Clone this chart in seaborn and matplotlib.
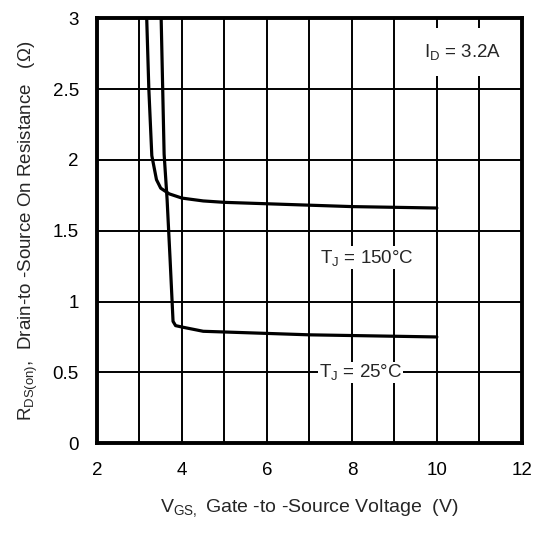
import matplotlib
matplotlib.use("Agg")
import matplotlib.pyplot as plt
import seaborn as sns
import pandas as pd

# Data
v_150 = [3.17, 3.22, 3.29, 3.40, 3.50, 3.70, 4.00, 4.50, 5.0, 6.0, 7.0, 8.0, 9.0, 10.0]
r_150 = [3.00, 2.50, 2.03, 1.86, 1.80, 1.76, 1.73, 1.71, 1.70, 1.69, 1.68, 1.67, 1.665, 1.66]
v_25 = [3.51, 3.58, 3.65, 3.72, 3.79, 3.85, 4.00, 4.50, 5.0, 6.0, 7.0, 8.0, 9.0, 10.0]
r_25 = [3.00, 2.04, 1.72, 1.30, 0.86, 0.83, 0.82, 0.79, 0.785, 0.775, 0.765, 0.76, 0.755, 0.75]
x_ticks = [2, 4, 6, 8, 10, 12]
y_ticks = [0, 0.5, 1, 1.5, 2, 2.5, 3]
y_tick_labels = ["0", "0.5", "1", "1.5", "2", "2.5", "3"]

df = pd.concat([
    pd.DataFrame({"V": v_150, "R": r_150, "T": "150"}),
    pd.DataFrame({"V": v_25, "R": r_25, "T": "25"}),
])

sns.set_style("white")
plt.rcParams["font.family"] = ["Liberation Sans", "DejaVu Sans"]
plt.rcParams["mathtext.fontset"] = "custom"
plt.rcParams["mathtext.rm"] = "Liberation Sans"

FS = 13.5
fig = plt.figure(figsize=(5.33, 5.34), dpi=100)
ax = fig.add_axes([0.182, 0.170, 0.797, 0.796])

for t in ["150", "25"]:
    sub = df[df["T"] == t]
    sns.lineplot(data=sub, x="V", y="R", ax=ax, color="black", lw=2.3,
                 sort=False, estimator=None, legend=False, zorder=3)

ax.set_xlim(2, 12)
ax.set_ylim(0, 3)
ax.set_xticks(x_ticks)
ax.set_xticks(list(range(2, 13)), minor=True)
ax.set_yticks(y_ticks)
ax.set_yticklabels(y_tick_labels)
ax.grid(True, which="both", color="black", lw=1.4, zorder=1)
ax.set_axisbelow(True)
ax.tick_params(axis="both", which="both", length=0, labelsize=FS, colors="black")
ax.tick_params(axis="x", pad=13.5)
ax.tick_params(axis="y", pad=13)
for s in ax.spines.values():
    s.set_color("black")
    s.set_linewidth(2.8)
    s.set_visible(True)

ax.set_xlabel(r"V$\mathregular{_{GS,}}$ Gate -to -Source Voltage  (V)", fontsize=FS + 0.5, labelpad=13)
ax.set_ylabel(r"R$\mathregular{_{DS(on)}}$,  Drain-to -Source On Resistance   (Ω)", fontsize=FS, labelpad=9)

ax.text(10.6, 2.76, r"I$\mathregular{_D}$ = 3.2A", fontsize=FS, ha="center", va="center", zorder=4,
        bbox=dict(facecolor="white", edgecolor="none", pad=10))
ax.text(8.36, 1.31, r"T$\mathregular{_J}$ = 150°C", fontsize=FS, ha="center", va="center", zorder=4,
        bbox=dict(facecolor="white", edgecolor="none", pad=1))
ax.text(8.2, 0.5, r"T$\mathregular{_J}$ = 25°C", fontsize=FS, ha="center", va="center", zorder=4,
        bbox=dict(facecolor="white", edgecolor="none", pad=0.5))

fig.savefig("out.png", dpi=100)
